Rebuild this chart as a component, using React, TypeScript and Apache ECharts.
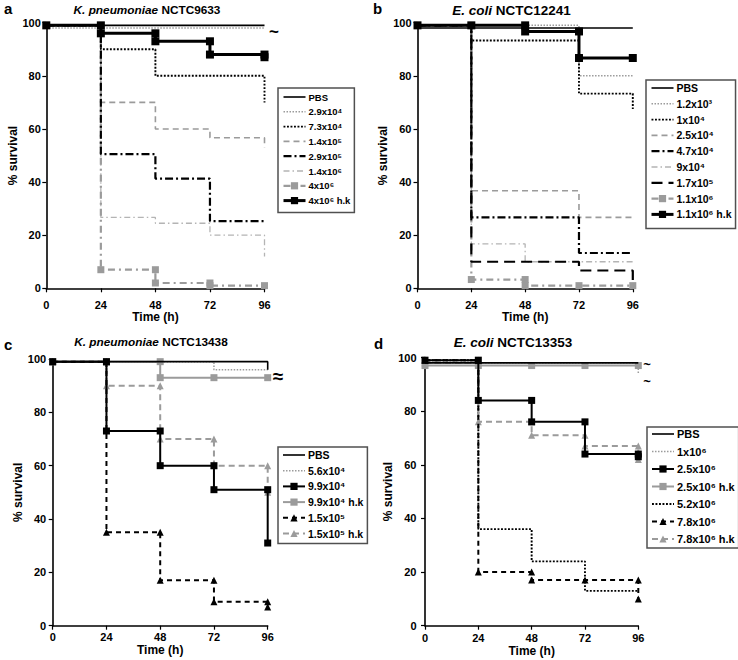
import React, { useEffect, useRef } from "react";
import * as echarts from "echarts";

const FONT = "'Liberation Sans', Arial, Helvetica, sans-serif";

// ---------- axis ticks ----------
const TIME_MIN = 0;
const TIME_MAX = 96;
const TIME_STEP = 24;
const SURV_MIN = 0;
const SURV_MAX = 100;
const SURV_STEP = 20;

// ---------- panel titles ----------
const SPECIES = ["K. pneumoniae", "E. coli", "K. pneumoniae", "E. coli"];
const STRAINS = ["NCTC9633", "NCTC12241", "NCTC13438", "NCTC13353"];
const LETTERS = ["a", "b", "c", "d"];

// ---------- panel a: K. pneumoniae NCTC9633 ----------
const A_PBS = [[0, 99], [96, 99]];
const A_2_9E4 = [[0, 98], [96, 98]];
const A_7_3E4 = [[0, 99], [24, 99], [24, 90], [48, 90], [48, 80], [96, 80], [96, 70]];
const A_1_4E5 = [[0, 99], [24, 99], [24, 70], [48, 70], [48, 60], [72, 60], [72, 56.7], [96, 56.7], [96, 53]];
const A_2_9E5 = [[0, 99], [24, 99], [24, 50.5], [48, 50.5], [48, 41.3], [72, 41.3], [72, 25.3], [96, 25.3]];
const A_1_4E6 = [[0, 99], [24, 99], [24, 26.7], [48, 26.7], [48, 24.5], [72, 24.5], [72, 20], [96, 20], [96, 12]];
const A_4E6 = [[0, 99], [24, 99], [24, 7], [48, 7], [48, 2], [72, 2], [72, 1], [96, 1]];
const A_4E6_HK = [[0, 99], [24, 99], [24, 96], [48, 96], [48, 93], [72, 93], [72, 88], [96, 88], [96, 87]];

// ---------- panel b: E. coli NCTC12241 ----------
const B_PBS = [[0, 98], [96, 98]];
const B_1_2E3 = [[0, 99], [72, 99], [72, 80], [96, 80]];
const B_1E4 = [[0, 99], [24, 99], [24, 93.3], [72, 93.3], [72, 73.3], [96, 73.3], [96, 67.5]];
const B_2_5E4 = [[0, 99], [24, 99], [24, 36.7], [72, 36.7], [72, 26.7], [96, 26.7]];
const B_4_7E4 = [[0, 99], [24, 99], [24, 26.7], [72, 26.7], [72, 13.3], [96, 13.3]];
const B_9E4 = [[0, 99], [24, 99], [24, 16.7], [48, 16.7], [48, 10], [96, 10]];
const B_1_7E5 = [[0, 99], [24, 99], [24, 10], [72, 10], [72, 6.7], [96, 6.7], [96, 2]];
const B_1_1E6 = [[0, 99], [24, 99], [24, 3.3], [48, 3.3], [48, 1], [72, 1], [96, 1]];
const B_1_1E6_HK = [[0, 99], [24, 99], [48, 99], [48, 96.7], [72, 96.7], [72, 86.7], [96, 86.7]];

// ---------- panel c: K. pneumoniae NCTC13438 ----------
const C_PBS = [[0, 99], [96, 99], [96, 96]];
const C_5_6E4 = [[0, 99], [72, 99], [72, 96], [96, 96]];
const C_9_9E4 = [[0, 99], [24, 99], [24, 73], [48, 73], [48, 60], [72, 60], [72, 51], [96, 51], [96, 31]];
const C_9_9E4_HK = [[0, 99], [24, 99], [48, 99], [48, 93], [72, 93], [96, 93]];
const C_1_5E5 = [[0, 99], [24, 99], [24, 35], [48, 35], [48, 17], [72, 17], [72, 9], [96, 9], [96, 7]];
const C_1_5E5_HK = [[0, 99], [24, 99], [24, 90], [48, 90], [48, 70], [72, 70], [72, 60], [96, 60], [96, 50]];

// ---------- panel d: E. coli NCTC13353 ----------
const D_PBS = [[0, 98], [96, 98]];
const D_1E6 = [[0, 98], [96, 98], [96, 94]];
const D_2_5E6 = [[0, 99], [24, 99], [24, 84], [48, 84], [48, 76], [72, 76], [72, 64], [96, 64], [96, 63]];
const D_2_5E6_HK = [[0, 97], [24, 97], [48, 97], [72, 97], [96, 97]];
const D_5_2E6 = [[0, 99], [24, 99], [24, 36], [48, 36], [48, 24], [72, 24], [72, 13], [96, 13]];
const D_7_8E6 = [[0, 99], [24, 99], [24, 20], [48, 20], [48, 17], [72, 17], [96, 17], [96, 10]];
const D_7_8E6_HK = [[0, 98], [24, 98], [24, 76], [48, 76], [48, 71], [72, 71], [72, 67], [96, 67], [96, 62]];

// ---------- styles ----------
const BLACK = "#000000";
const GRAY = "#9b9b9b";
const LIGHT = "#b4b4b4";

type Sty = { color: string; width: number; type: any; sym?: string; size?: number; z?: number };
const S: Record<string, Sty> = {
  pbs: { color: BLACK, width: 1.6, type: "solid", z: 5 },
  dotGray: { color: GRAY, width: 1.5, type: [1.5, 1.5], z: 2 },
  dotBlack: { color: BLACK, width: 1.9, type: [1.9, 1.6], z: 3 },
  dashGray: { color: GRAY, width: 1.6, type: [6, 4], z: 2 },
  dashDotBlack: { color: BLACK, width: 2.2, type: [8, 3, 2, 3], z: 3 },
  dashDotLight: { color: LIGHT, width: 1.3, type: [6, 3, 1.5, 3], z: 1 },
  longDashBlack: { color: BLACK, width: 2.2, type: [11, 6], z: 3 },
  sqGrayDashDot: { color: GRAY, width: 2.2, type: [7, 4, 2, 4], sym: "rect", size: 7, z: 2 },
  sqBlackThick: { color: BLACK, width: 3, type: "solid", sym: "rect", size: 8, z: 6 },
  sqBlack: { color: BLACK, width: 2, type: "solid", sym: "rect", size: 7, z: 5 },
  sqGray: { color: GRAY, width: 2, type: "solid", sym: "rect", size: 7, z: 4 },
  triBlack: { color: BLACK, width: 2, type: [5, 4], sym: "triangle", size: 7, z: 4 },
  triGray: { color: GRAY, width: 2, type: [6, 4], sym: "triangle", size: 7, z: 3 },
};

type Def = [string, number[][], Sty];
const PANELS: Def[][] = [
  [
    ["PBS", A_PBS, S.pbs],
    ["2.9x10⁴", A_2_9E4, S.dotGray],
    ["7.3x10⁴", A_7_3E4, S.dotBlack],
    ["1.4x10⁵", A_1_4E5, S.dashGray],
    ["2.9x10⁵", A_2_9E5, S.dashDotBlack],
    ["1.4x10⁶", A_1_4E6, S.dashDotLight],
    ["4x10⁶", A_4E6, S.sqGrayDashDot],
    ["4x10⁶ h.k", A_4E6_HK, S.sqBlackThick],
  ],
  [
    ["PBS", B_PBS, S.pbs],
    ["1.2x10³", B_1_2E3, S.dotGray],
    ["1x10⁴", B_1E4, S.dotBlack],
    ["2.5x10⁴", B_2_5E4, S.dashGray],
    ["4.7x10⁴", B_4_7E4, S.dashDotBlack],
    ["9x10⁴", B_9E4, S.dashDotLight],
    ["1.7x10⁵", B_1_7E5, S.longDashBlack],
    ["1.1x10⁶", B_1_1E6, S.sqGrayDashDot],
    ["1.1x10⁶ h.k", B_1_1E6_HK, S.sqBlackThick],
  ],
  [
    ["PBS", C_PBS, S.pbs],
    ["5.6x10⁴", C_5_6E4, S.dotGray],
    ["9.9x10⁴", C_9_9E4, S.sqBlack],
    ["9.9x10⁴ h.k", C_9_9E4_HK, S.sqGray],
    ["1.5x10⁵", C_1_5E5, S.triBlack],
    ["1.5x10⁵ h.k", C_1_5E5_HK, S.triGray],
  ],
  [
    ["PBS", D_PBS, S.pbs],
    ["1x10⁶", D_1E6, S.dotGray],
    ["2.5x10⁶", D_2_5E6, S.sqBlack],
    ["2.5x10⁶ h.k", D_2_5E6_HK, S.sqGray],
    ["5.2x10⁶", D_5_2E6, S.dotBlack],
    ["7.8x10⁶", D_7_8E6, S.triBlack],
    ["7.8x10⁶ h.k", D_7_8E6_HK, S.triGray],
  ],
];

// ---------- layout ----------
const GRIDS = [
  { left: 46.3, top: 22.7, width: 218.2, height: 265.6 },
  { left: 417.5, top: 22.7, width: 215.3, height: 265.6 },
  { left: 52.7, top: 359, width: 215, height: 266.7 },
  { left: 425, top: 357.5, width: 213.3, height: 268.2 },
];
const X_LABEL_MARGIN = [11, 11, 6, 7];
const X_NAME_GAP = [19, 20, 15, 16.5];
const Y_LABEL_MARGIN = [5.5, 6, 6.5, 8.5];
const Y_NAME_GAP = [23, 24, 26, 28];
const LEGENDS = [
  { left: 278, top: 88, gap: 2.8, font: 9.5, pad: [3, 4, 6, 4] },
  { left: 646, top: 80, gap: 3.8, font: 10.5, pad: [2, 4, 8, 4] },
  { left: 278, top: 447, gap: 3.7, font: 10.5, pad: [2, 4, 4, 4] },
  { left: 647, top: 427, gap: 5.5, font: 11, pad: [1, 4, 3, 4] },
];
const TITLE_POS = [
  [147, 10],
  [511.5, 10],
  [151, 342],
  [513, 342],
];
const TITLE_SIZE = [11.8, 13.5, 11.8, 13.5];
const LETTER_POS = [
  [4, 8],
  [373, 8],
  [4, 344],
  [374, 343],
];

function buildOption() {
  const grid: any[] = [];
  const xAxis: any[] = [];
  const yAxis: any[] = [];
  const legend: any[] = [];
  const series: any[] = [];
  const graphic: any[] = [];

  const axisCommon = {
    axisLine: { show: true, onZero: false, lineStyle: { color: BLACK, width: 1.6 } },
    axisTick: { show: true, inside: false, length: 4, lineStyle: { color: BLACK, width: 1.2 } },
    splitLine: { show: false },
    nameLocation: "middle",
    nameTextStyle: { fontFamily: FONT, fontWeight: "bold", fontSize: 12, color: BLACK },
  };

  PANELS.forEach((defs, p) => {
    grid.push({ ...GRIDS[p], containLabel: false });
    xAxis.push({
      ...axisCommon,
      gridIndex: p,
      type: "value",
      min: TIME_MIN,
      max: TIME_MAX,
      interval: TIME_STEP,
      name: "Time (h)",
      nameGap: X_NAME_GAP[p],
      axisLabel: {
        margin: X_LABEL_MARGIN[p],
        fontFamily: FONT,
        fontWeight: "bold",
        fontSize: 11,
        color: BLACK,
      },
    });
    yAxis.push({
      ...axisCommon,
      gridIndex: p,
      type: "value",
      min: SURV_MIN,
      max: SURV_MAX,
      interval: SURV_STEP,
      name: "% survival",
      nameGap: Y_NAME_GAP[p],
      axisLabel: {
        margin: Y_LABEL_MARGIN[p],
        fontFamily: FONT,
        fontWeight: "bold",
        fontSize: 11,
        color: BLACK,
      },
    });

    const lg = LEGENDS[p];
    legend.push({
      orient: "vertical",
      left: lg.left,
      top: lg.top,
      padding: lg.pad,
      itemGap: lg.gap,
      itemWidth: 22,
      itemHeight: 9,
      borderColor: "#505050",
      borderWidth: 1.5,
      backgroundColor: "#ffffff",
      selectedMode: false,
      textStyle: {
        fontFamily: FONT,
        fontWeight: "bold",
        fontSize: lg.font,
        color: BLACK,
        lineHeight: 12,
        padding: [0, 0, 0, -2],
      },
      lineStyle: { width: "inherit" },
      itemStyle: { borderWidth: 0 },
      data: defs.map(([name, , st]) =>
        st.sym
          ? { name }
          : {
              name,
              itemStyle: {
                color: "rgba(0,0,0,0)",
                borderColor: "rgba(0,0,0,0)",
                borderWidth: 0,
              },
            }
      ),
    });

    defs.forEach(([name, data, st]) => {
      series.push({
        type: "line",
        name,
        data,
        xAxisIndex: p,
        yAxisIndex: p,
        color: st.color,
        lineStyle: { color: st.color, width: st.width, type: st.type, cap: "butt" },
        itemStyle: { color: st.color, borderWidth: 0 },
        symbol: st.sym || "none",
        symbolSize: st.size || 0,
        showSymbol: !!st.sym,
        z: st.z || 2,
        silent: true,
        animation: false,
        clip: false,
      });
    });

    const ts = TITLE_SIZE[p];
    graphic.push({
      type: "text",
      x: TITLE_POS[p][0],
      y: TITLE_POS[p][1],
      style: {
        text: `{i|${SPECIES[p]}} {b|${STRAINS[p]}}`,
        rich: {
          i: { fontStyle: "italic", fontWeight: "bold", fontSize: ts, fontFamily: FONT, fill: BLACK },
          b: { fontWeight: "bold", fontSize: ts, fontFamily: FONT, fill: BLACK },
        },
        fontSize: ts,
        fontWeight: "bold",
        fontFamily: FONT,
        fill: BLACK,
        align: "center",
        textAlign: "center",
        verticalAlign: "middle",
        textVerticalAlign: "middle",
      },
    });
    graphic.push({
      type: "text",
      x: LETTER_POS[p][0],
      y: LETTER_POS[p][1],
      style: {
        text: LETTERS[p],
        fontSize: 15,
        fontWeight: "bold",
        fontFamily: FONT,
        fill: BLACK,
        align: "left",
        textAlign: "left",
        verticalAlign: "middle",
        textVerticalAlign: "middle",
      },
    });
  });

  // break marks (~) next to curves that end near the top
  const tilde = (x: number, y: number, t: string, size: number) => ({
    type: "text",
    x,
    y,
    style: {
      text: t,
      fontSize: size,
      fontWeight: "bold",
      fontFamily: FONT,
      fill: BLACK,
      align: "center",
      textAlign: "center",
      verticalAlign: "middle",
      textVerticalAlign: "middle",
    },
  });
  graphic.push(tilde(274, 31, "~", 17));
  graphic.push(tilde(278, 376, "≈", 19));
  graphic.push(tilde(647, 364, "~", 13));
  graphic.push(tilde(647, 381, "~", 13));

  return {
    animation: false,
    backgroundColor: "#ffffff",
    grid,
    xAxis,
    yAxis,
    legend,
    series,
    graphic,
  };
}

export default function App() {
  const ref = useRef<HTMLDivElement>(null);
  useEffect(() => {
    if (!ref.current) return;
    const chart = echarts.init(ref.current, undefined, { renderer: "svg" });
    chart.setOption(buildOption() as any);
    return () => chart.dispose();
  }, []);
  return (
    <div
      ref={ref}
      style={{ position: "fixed", left: 0, top: 0, width: 738, height: 660, background: "#fff" }}
    />
  );
}
